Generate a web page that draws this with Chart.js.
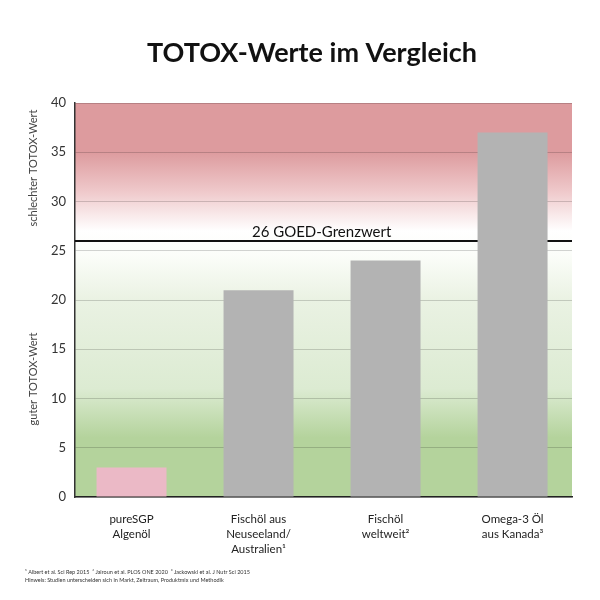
<!DOCTYPE html>
<html>
<head>
<meta charset="utf-8">
<script src="https://cdn.jsdelivr.net/npm/chart.js@4/dist/chart.umd.min.js"></script>
<style>
  html, body { margin: 0; padding: 0; background: #fff; }
  #wrap { width: 600px; height: 600px; }
</style>
</head>
<body>
<div id="wrap"><canvas id="totoxChart" width="600" height="600"></canvas></div>
<script>
// chart data
const categories = [
    ["pureSGP", "Algenöl"],
    ["Fischöl aus", "Neuseeland/", "Australien¹"],
    ["Fischöl", "weltweit²"],
    ["Omega-3 Öl", "aus Kanada³"]
];
const totoxValues = [3, 21, 24, 37];
const barColors = ["#ebb9c6", "#b3b3b3", "#b3b3b3", "#b3b3b3"];
const yTicks = [0, 5, 10, 15, 20, 25, 30, 35, 40];
const goedLimit = 26;
const goedLabel = "26 GOED-Grenzwert";
const chartTitle = "TOTOX-Werte im Vergleich";
const footnotes = [
    "¹ Albert et al. Sci Rep 2015  ² Jairoun et al. PLOS ONE 2020  ³ Jackowski et al. J Nutr Sci 2015",
    "Hinweis: Studien unterscheiden sich in Markt, Zeitraum, Produktmix und Methodik"
];

const FONT = "Lato, 'Noto Sans', sans-serif";

// red at the top fading to white, then white to green at the bottom
const backgroundPlugin = {
    id: "zoneBackground",
    beforeDraw(chart) {
        let ctx = chart.ctx;
        let area = chart.chartArea;
        let y = chart.scales.y;
        let grad = ctx.createLinearGradient(0, y.getPixelForValue(40), 0, y.getPixelForValue(0));
        let stop = function(v, c) {
            grad.addColorStop((40 - v) / 40, c);
        };
        stop(40, "#dd9b9e");
        stop(35, "#dd9b9e");
        stop(31, "#efc9cb");
        stop(27, "#ffffff");
        stop(24.5, "#fbfdf9");
        stop(20, "#eaf2e3");
        stop(11, "#dcebd2");
        stop(6, "#b4d39c");
        stop(0, "#b4d39c");
        ctx.save();
        ctx.fillStyle = grad;
        ctx.fillRect(area.left, area.top, area.right - area.left, area.bottom - area.top);
        ctx.restore();
    }
};

// GOED limit line, side labels, title and footnotes
const annotationsPlugin = {
    id: "annotations",
    beforeDatasetsDraw(chart) {
        let ctx = chart.ctx;
        let area = chart.chartArea;
        let yPx = chart.scales.y.getPixelForValue(goedLimit);
        ctx.save();
        ctx.strokeStyle = "#111";
        ctx.lineWidth = 2;
        ctx.beginPath();
        ctx.moveTo(area.left, yPx);
        ctx.lineTo(area.right, yPx);
        ctx.stroke();
        ctx.fillStyle = "#111";
        ctx.font = "15px " + FONT;
        ctx.textAlign = "left";
        ctx.textBaseline = "alphabetic";
        ctx.fillText(goedLabel, area.left + 177, yPx - 4);
        ctx.restore();
    },
    afterDraw(chart) {
        let ctx = chart.ctx;
        let y = chart.scales.y;
        ctx.save();
        ctx.fillStyle = "#444";
        ctx.font = "11px " + FONT;
        ctx.textAlign = "center";
        ctx.textBaseline = "middle";
        ctx.translate(33, 168);
        ctx.rotate(-Math.PI / 2);
        ctx.fillText("schlechter TOTOX-Wert", 0, 0);
        ctx.restore();

        ctx.save();
        ctx.fillStyle = "#444";
        ctx.font = "11px " + FONT;
        ctx.textAlign = "center";
        ctx.textBaseline = "middle";
        ctx.translate(33, 379);
        ctx.rotate(-Math.PI / 2);
        ctx.fillText("guter TOTOX-Wert", 0, 0);
        ctx.restore();

        ctx.save();
        ctx.fillStyle = "#111";
        ctx.font = "bold 27px " + FONT;
        ctx.textAlign = "center";
        ctx.textBaseline = "alphabetic";
        ctx.fillText(chartTitle, 312, 62);

        ctx.fillStyle = "#333";
        ctx.font = "5.5px " + FONT;
        ctx.textAlign = "left";
        ctx.fillText(footnotes[0], 25, 574);
        ctx.fillText(footnotes[1], 25, 582);
        ctx.restore();
    }
};

let ctx = document.getElementById("totoxChart").getContext("2d");
let totoxChart = new Chart(ctx, {
    type: "bar",
    data: {
        datasets: [{
            data: totoxValues.map((v, i) => ({ x: i + 1, y: v })),
            backgroundColor: barColors,
            borderWidth: 0,
            categoryPercentage: 1,
            barPercentage: 0.551
        }]
    },
    options: {
        responsive: false,
        animation: false,
        devicePixelRatio: 1,
        layout: {
            padding: { top: 103, right: 28, bottom: 40, left: 0 }
        },
        plugins: {
            legend: { display: false },
            tooltip: { enabled: false }
        },
        scales: {
            x: {
                type: "linear",
                min: 0.555,
                max: 4.468,
                offset: false,
                afterBuildTicks(scale) {
                    scale.ticks = categories.map((c, i) => ({ value: i + 1 }));
                },
                grid: { display: false, drawTicks: false },
                border: { display: true, color: "#222", width: 1.5 },
                ticks: {
                    color: "#222",
                    padding: 15,
                    maxRotation: 0,
                    font: { family: FONT, size: 11.5, lineHeight: 1.3 },
                    callback: (value) => categories[value - 1]
                },
                afterFit(scale) { scale.height = 63; }
            },
            y: {
                min: 0,
                max: 40,
                afterBuildTicks(scale) {
                    scale.ticks = yTicks.map(v => ({ value: v }));
                },
                grid: { color: "rgba(0,0,0,0.17)", lineWidth: 1, drawTicks: false },
                border: { display: true, color: "#333", width: 1.5 },
                ticks: {
                    color: "#333",
                    padding: 9,
                    font: { family: FONT, size: 13 }
                },
                afterFit(scale) { scale.width = 75; }
            }
        }
    },
    plugins: [backgroundPlugin, annotationsPlugin]
});
</script>
</body>
</html>
